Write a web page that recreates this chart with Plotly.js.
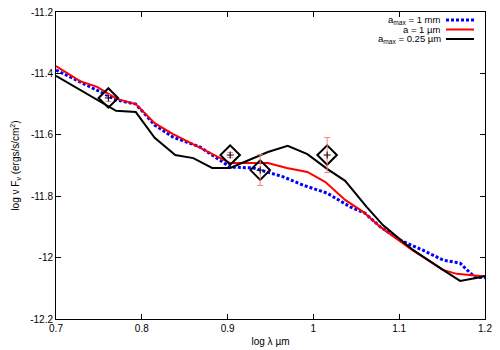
<!DOCTYPE html>
<html>
<head>
<meta charset="utf-8">
<script src="https://cdn.plot.ly/plotly-3.0.1.min.js"></script>
<style>
  html, body { margin: 0; padding: 0; background: #fff; }
  #chart { width: 500px; height: 350px; }
</style>
</head>
<body>
<div id="chart"></div>
<script>
// a_max = 1 mm (blue dotted)
var mmX = [0.700, 0.728, 0.755, 0.771, 0.793, 0.815, 0.836, 0.868, 0.903, 0.930, 0.965, 0.988, 1.016, 1.043, 1.060, 1.078, 1.101, 1.127, 1.151, 1.171, 1.179, 1.188, 1.200];
var mmY = [-11.389, -11.428, -11.464, -11.487, -11.500, -11.568, -11.607, -11.640, -11.705, -11.708, -11.737, -11.764, -11.790, -11.835, -11.855, -11.900, -11.943, -11.975, -12.008, -12.018, -12.040, -12.063, -12.066];

// a = 1 um (red)
var umX = [0.700, 0.728, 0.748, 0.771, 0.793, 0.815, 0.836, 0.868, 0.903, 0.947, 0.969, 0.993, 1.014, 1.037, 1.058, 1.078, 1.115, 1.151, 1.167, 1.194, 1.200];
var umY = [-11.376, -11.425, -11.444, -11.483, -11.500, -11.562, -11.597, -11.643, -11.692, -11.692, -11.708, -11.721, -11.754, -11.812, -11.851, -11.900, -11.975, -12.040, -12.053, -12.060, -12.060];

// a_max = 0.25 um (black)
var qX = [0.700, 0.762, 0.770, 0.793, 0.815, 0.839, 0.860, 0.882, 0.903, 0.947, 0.970, 0.993, 1.016, 1.037, 1.062, 1.081, 1.116, 1.151, 1.171, 1.196, 1.200];
var qY = [-11.408, -11.509, -11.522, -11.526, -11.610, -11.666, -11.676, -11.708, -11.708, -11.656, -11.636, -11.663, -11.711, -11.750, -11.835, -11.894, -11.975, -12.040, -12.076, -12.063, -12.060];

// observations
var obsX = [0.761, 0.903, 0.938, 1.016];
var obsY = [-11.480, -11.666, -11.715, -11.666];
var obsErr = [0.012, 0.008, 0.050, 0.057];

var legendNames = ['a<sub>max</sub> = 1 mm', 'a = 1 µm', 'a<sub>max</sub> = 0.25 µm'];
var legendColors = ['#0000ff', '#ff0000', '#000000'];
var legendDash = ['3px,2px', 'solid', 'solid'];

var FONT = { family: 'Liberation Sans, Arial, sans-serif', color: '#000', size: 10 };
var LEGEND_FONT = { family: 'Liberation Sans, Arial, sans-serif', color: '#000', size: 9.5 };

var traces = [
  {
    x: mmX, y: mmY, type: 'scatter', mode: 'lines',
    line: { color: '#0000ff', width: 3, dash: '3px,2px' }
  },
  {
    x: umX, y: umY, type: 'scatter', mode: 'lines',
    line: { color: '#ff0000', width: 2 }
  },
  {
    x: qX, y: qY, type: 'scatter', mode: 'lines',
    line: { color: '#000000', width: 2 }
  },
  {
    x: obsX, y: obsY, type: 'scatter', mode: 'markers',
    marker: { symbol: 'diamond-open', size: 15, color: '#000', line: { width: 2, color: '#000' } }
  },
  {
    x: obsX, y: obsY, type: 'scatter', mode: 'markers',
    marker: { symbol: 'cross-thin-open', size: 5, color: '#000', line: { width: 1, color: '#000' } },
    error_y: { type: 'data', array: obsErr, visible: true, color: '#ff8080', thickness: 1, width: 3 }
  }
];

var annotations = [];
var shapes = [];
legendNames.forEach(function(n, i) {
  var yp = 1 - (8 + i * 9.5) / 307;
  annotations.push({
    xref: 'paper', yref: 'paper', x: (442 - 56) / 429, y: yp,
    xanchor: 'right', yanchor: 'middle', showarrow: false,
    text: n, font: LEGEND_FONT, borderpad: 0
  });
  shapes.push({
    type: 'line', xref: 'paper', yref: 'paper',
    x0: (446 - 56) / 429, x1: (474 - 56) / 429, y0: yp, y1: yp,
    line: { color: legendColors[i], width: legendDash[i] === 'solid' ? 2 : 3, dash: legendDash[i] }
  });
});

var layout = {
  width: 500,
  height: 350,
  paper_bgcolor: '#fff',
  plot_bgcolor: '#fff',
  font: FONT,
  showlegend: false,
  margin: { t: 12, r: 15, b: 31, l: 56 },
  xaxis: {
    range: [0.7, 1.2],
    tickvals: [0.7, 0.8, 0.9, 1.0, 1.1, 1.2],
    ticktext: ['0.7', '0.8', '0.9', '1', '1.1', '1.2'],
    ticks: 'inside', ticklen: 5, tickcolor: '#000',
    showline: true, linecolor: '#000', linewidth: 1, mirror: 'ticks',
    showgrid: false, zeroline: false,
    title: { text: 'log λ µm', font: FONT, standoff: 4 }
  },
  yaxis: {
    range: [-12.2, -11.2],
    tickvals: [-12.2, -12.0, -11.8, -11.6, -11.4, -11.2],
    ticktext: ['-12.2', '-12', '-11.8', '-11.6', '-11.4', '-11.2'],
    ticks: 'inside', ticklen: 5, tickcolor: '#000',
    showline: true, linecolor: '#000', linewidth: 1, mirror: 'ticks',
    showgrid: false, zeroline: false,
    title: { text: 'log ν F<sub>ν</sub> (ergs/s/cm<sup>2</sup>)', font: FONT, standoff: 8 }
  },
  annotations: annotations,
  shapes: shapes
};

Plotly.newPlot('chart', traces, layout, { displayModeBar: false, staticPlot: true });
</script>
</body>
</html>
